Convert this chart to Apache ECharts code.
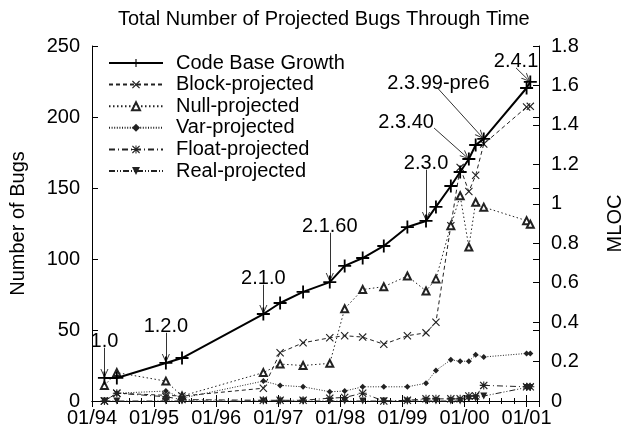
<!DOCTYPE html>
<html>
<head>
<meta charset="utf-8">
<script src="https://cdn.jsdelivr.net/npm/echarts@6/dist/echarts.min.js"></script>
<style>html,body{margin:0;padding:0;background:#fff}#c{width:633px;height:431px}</style>
</head>
<body>
<div id="c"></div>
<script>
// ---- data ----
const releaseDates = [1994.20, 1994.40, 1995.19, 1995.45, 1996.76, 1997.03, 1997.40, 1997.83, 1998.07, 1998.36, 1998.70,
                      1999.08, 1999.38, 1999.54, 1999.78, 1999.93, 2000.07, 2000.18, 2000.31, 2001.00, 2001.06];
const codeBaseMLOC = [0.117, 0.117, 0.193, 0.218, 0.441, 0.497, 0.553, 0.603, 0.685, 0.725, 0.786,
                      0.882, 0.913, 0.984, 1.090, 1.161, 1.227, 1.298, 1.329, 1.587, 1.618];
const blockProjected = [0, 5.5, 4, 3.5, 9, 34, 41, 44.5, 46, 45, 40, 46, 48, 55.5, 123.5, 164.5, 147.5, 159, 181, 207, 207.5];
const nullProjected  = [11, 20, 14, 3.5, 20, 26, 25, 26.5, 65, 78.5, 80.5, 88, 77.5, 86, 123.5, 144.5, 108.5, 140, 136.5, 127, 124.5];
const varProjected   = [0, 5.5, 7, 2, 14, 11, 10, 6.5, 7, 10, 10, 10, 12.5, 21.5, 29, 28, 28, 32.5, 31, 33.5, 33.5];
const floatProjected = [0, 5.5, 3, 1, 0.5, 0.5, 0.5, 2, 2.5, 5.5, 0, 0.5, 1.5, 1.5, 1.5, 1.5, 3.5, 3.5, 11, 10, 10];
const realProjected  = [0, 0, 0, 0, 0, 0, 0, 0, 0, 0, 0, 0, 0, 0, 0, 0, 1.5, 2, 3.5, 9.5, 9.5];

const yearTicks = [1994, 1995, 1996, 1997, 1998, 1999, 2000, 2001];
const yearTickLabels = ['01/94', '01/95', '01/96', '01/97', '01/98', '01/99', '01/00', '01/01'];

// release annotations: name, index of the code-base point, arrow tail (year, MLOC)
const releaseNames = ['1.0', '1.2.0', '2.1.0', '2.1.60', '2.3.0', '2.3.40', '2.3.99-pre6', '2.4.1'];
const releasePointIndex = [0, 2, 4, 7, 12, 16, 18, 20];
const releaseArrowTail = [[1994.20, 0.27], [1995.19, 0.346], [1996.76, 0.59], [1997.83, 0.853],
                          [1999.38, 1.173], [1999.51, 1.384], [1999.58, 1.582], [2000.83, 1.689]];

// ---- styles ----
const FONT = 'Liberation Sans, Arial, Helvetica, sans-serif';
const PLUS = 'path://M4.3,0H5.7V4.3H10V5.7H5.7V10H4.3V5.7H0V4.3H4.3Z';
const CROSS = 'path://M0,1L1,0L5,4L9,0L10,1L6,5L10,9L9,10L5,6L1,10L0,9L4,5Z';
const STAR = 'path://M0,1L1,0L5,4L9,0L10,1L6,5L10,9L9,10L5,6L1,10L0,9L4,5Z M4.35,0H5.65V4.35H10V5.65H5.65V10H4.35V5.65H0V4.35H4.35Z';
const VHEAD = 'path://M0,-10L0.01,-10L0,-9.99Z M20,10L19.99,10L20,9.99Z M10,0L14.5,10L13.4,10L10,2.3L6.6,10L5.5,10Z';

const zip = (arr) => releaseDates.map((d, i) => [d, arr[i]]);

function bugSeries(name, arr, symbol, size, dash, extra) {
  return Object.assign({
    name: name, type: 'line', data: zip(arr), yAxisIndex: 0,
    symbol: symbol, symbolSize: size, clip: false,
    lineStyle: { color: '#222', width: 1, type: dash },
    itemStyle: { color: '#222' },
    z: 3
  }, extra || {});
}

const chart = echarts.init(document.getElementById('c'), null, { renderer: 'canvas' });

const axisCommon = {
  axisLine: { show: true, lineStyle: { color: '#000', width: 1 } },
  axisTick: { show: true, inside: true, length: 6, lineStyle: { color: '#000', width: 1 } },
  splitLine: { show: false },
  axisLabel: { fontSize: 20, color: '#000', fontFamily: FONT }
};

chart.setOption({
  animation: false,
  backgroundColor: '#fff',
  textStyle: { fontFamily: FONT, color: '#000' },
  title: {
    text: 'Total Number of Projected Bugs Through Time',
    left: 118, top: 9, padding: 0,
    textStyle: { fontSize: 20, fontWeight: 'normal', color: '#000', fontFamily: FONT }
  },
  grid: { left: 84, right: 77, top: 46, bottom: 30, containLabel: false },
  legend: {
    orient: 'vertical', left: 108, top: 53, padding: 0,
    itemWidth: 54, itemHeight: 10, itemGap: 1.6,
    textStyle: { fontSize: 20, color: '#000', fontFamily: FONT, lineHeight: 18, padding: [0, 0, 0, 8] },
    data: ['Code Base Growth', 'Block-projected', 'Null-projected', 'Var-projected', 'Float-projected', 'Real-projected']
  },
  xAxis: [
    Object.assign({}, axisCommon, {
      type: 'value', position: 'bottom', min: 1994, max: 2001.2, interval: 1,
      minorTick: { show: true, splitNumber: 5, length: 3, lineStyle: { color: '#000' } },
      axisLabel: Object.assign({}, axisCommon.axisLabel, {
        margin: 7,
        formatter: function (v) {
          const i = yearTicks.findIndex(y => Math.abs(y - v) < 1e-6);
          return i >= 0 ? yearTickLabels[i] : '';
        }
      })
    }),
    Object.assign({}, axisCommon, {
      type: 'value', position: 'top', min: 1994, max: 2001.2, interval: 1,
      minorTick: { show: true, splitNumber: 5, length: 3, lineStyle: { color: '#000' } },
      axisLabel: { show: false }
    })
  ],
  yAxis: [
    Object.assign({}, axisCommon, {
      type: 'value', position: 'left', min: 0, max: 250, interval: 50,
      axisLabel: Object.assign({}, axisCommon.axisLabel, { margin: 12 }),
      name: 'Number of Bugs', nameLocation: 'middle', nameRotate: 90, nameGap: 64,
      nameTextStyle: { fontSize: 20, color: '#000', fontFamily: FONT }
    }),
    Object.assign({}, axisCommon, {
      type: 'value', position: 'right', min: 0, max: 1.8, interval: 0.2,
      axisLabel: Object.assign({}, axisCommon.axisLabel, { margin: 12 }),
      name: 'MLOC', nameLocation: 'middle', nameRotate: 90, nameGap: 66,
      nameTextStyle: { fontSize: 20, color: '#000', fontFamily: FONT }
    }),
    Object.assign({}, axisCommon, {
      type: 'value', position: 'right', min: 0, max: 250, interval: 50,
      axisLine: { show: false }, axisLabel: { show: false }
    })
  ],
  series: [
    bugSeries('Block-projected', blockProjected, CROSS, 8, [4, 3]),
    bugSeries('Null-projected', nullProjected, 'emptyTriangle', 7, [1.5, 2.5], {
      itemStyle: { color: '#222', borderColor: '#222', borderWidth: 1 }
    }),
    bugSeries('Var-projected', varProjected, 'diamond', 6, [1, 1.6]),
    bugSeries('Float-projected', floatProjected, STAR, 8, [6, 3, 1, 3]),
    bugSeries('Real-projected', realProjected, 'triangle', 7, [6, 2, 1, 2, 1, 2], { symbolRotate: 180 }),
    {
      name: 'Code Base Growth', type: 'line', yAxisIndex: 1, data: zip(codeBaseMLOC),
      symbol: PLUS, symbolSize: 13, clip: false,
      lineStyle: { color: '#000', width: 2, type: 'solid' },
      itemStyle: { color: '#000' },
      z: 5
    },
    {
      name: 'releases', type: 'scatter', yAxisIndex: 1, silent: true, z: 6,
      symbol: 'circle', symbolSize: 0, itemStyle: { color: '#000', opacity: 1 },
      emphasis: { disabled: true },
      label: { show: true, position: 'top', distance: -4, fontSize: 20, color: '#000', opacity: 1,
               fontFamily: FONT, formatter: '{b}' },
      data: releaseNames.map((n, i) => ({
        name: n, value: releaseArrowTail[i],
        label: n === '2.3.40' ? { offset: [-28, 0] } : {}
      })),
      markLine: {
        silent: true, symbol: ['none', VHEAD], symbolSize: 18,
        label: { show: false },
        lineStyle: { color: '#333', width: 1, type: 'solid' },
        emphasis: { disabled: true },
        data: releaseNames.map((n, i) => [
          { coord: releaseArrowTail[i] },
          { coord: [releaseDates[releasePointIndex[i]], codeBaseMLOC[releasePointIndex[i]]] }
        ])
      }
    }
  ]
});
</script>
</body>
</html>
